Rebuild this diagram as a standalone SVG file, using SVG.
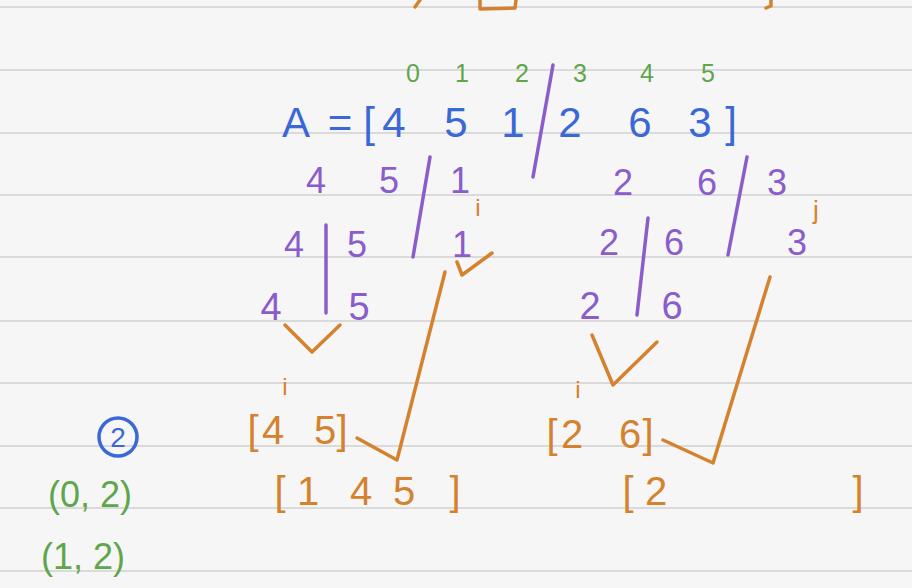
<svg xmlns="http://www.w3.org/2000/svg" width="912" height="588" viewBox="0 0 912 588">
<style>
.rule{stroke:#dadada;stroke-width:2}
.t{font-family:"Liberation Sans","Open Sans",sans-serif;text-anchor:middle}
.blue{fill:#3a68d6}
.green{fill:#5ea64c}
.purple{fill:#8b5ccc}
.orange{fill:#d4822e}
.ps{stroke:#8b5ccc;stroke-width:3.5;fill:none;stroke-linecap:round}
.os{stroke:#d4822e;stroke-width:3.5;fill:none;stroke-linecap:round;stroke-linejoin:round}
</style>
<rect width="912" height="588" fill="#f6f6f6"/>
<g id="ruling">
<line class="rule" x1="0" y1="7" x2="912" y2="7"/>
<line class="rule" x1="0" y1="70" x2="912" y2="70"/>
<line class="rule" x1="0" y1="133" x2="912" y2="133"/>
<line class="rule" x1="0" y1="195" x2="912" y2="195"/>
<line class="rule" x1="0" y1="257" x2="912" y2="257"/>
<line class="rule" x1="0" y1="321" x2="912" y2="321"/>
<line class="rule" x1="0" y1="383" x2="912" y2="383"/>
<line class="rule" x1="0" y1="446" x2="912" y2="446"/>
<line class="rule" x1="0" y1="508" x2="912" y2="508"/>
<line class="rule" x1="0" y1="571" x2="912" y2="571"/>
</g>
<g id="top-partial">
<path class="os" d="M420 0 L415 7"/>
<path class="os" d="M480 0 L480 9 L515 8 L516 0"/>
<path class="os" d="M771 0 L771 6 L766 8"/>
</g>
<g id="indices">
<text class="t green" font-size="25" x="413 462 522 580 647 708" y="82">012345</text>
</g>
<g id="array">
<text class="t blue" font-size="42" x="296 318 340 355 369 394 425 456 484 513 540 570 605 640 670 700 731" y="137">A = [4 5 1 2 6 3]</text>
</g>
<g id="splits">
<path class="ps" d="M553 65 L533 177"/>
<path class="ps" d="M430 157 L413 257"/>
<path class="ps" d="M326 225 L326 313"/>
<path class="ps" d="M747 157 L728 255"/>
<path class="ps" d="M648 218 L637 315"/>
<text class="t purple" font-size="36" x="316 389 460" y="193">451</text>
<text class="t purple" font-size="36" x="623 707 777" y="195">263</text>
<text class="t purple" font-size="36" x="294 357 462" y="257">451</text>
<text class="t purple" font-size="36" x="609 674 797" y="255">263</text>
<text class="t purple" font-size="38" x="271 359" y="320">45</text>
<text class="t purple" font-size="38" x="590 672" y="319">26</text>
</g>
<g id="merges">
<path class="os" d="M285 325 L312 352 L340 325"/>
<path class="os" d="M357 438 L397 460 L445 272"/>
<path class="os" d="M457 262 L462 275 L492 253"/>
<path class="os" d="M592 335 L613 385 L657 342"/>
<path class="os" d="M663 440 L713 463 L770 277"/>
<text class="t orange" font-size="24" x="478" y="216">i</text>
<text class="t orange" font-size="26" x="816" y="219">j</text>
<text class="t orange" font-size="24" x="285" y="395">i</text>
<text class="t orange" font-size="24" x="578" y="398">i</text>
<text class="t orange" font-size="40" x="253 273 300 325 342" y="444">[4 5]</text>
<text class="t orange" font-size="40" x="280 308 335 361 383 404 430 455" y="505">[1 4 5 ]</text>
<text class="t orange" font-size="40" x="552 572 600 630 648" y="448">[2 6]</text>
<text class="t orange" font-size="40" x="628 656" y="505">[2</text>
<text class="t orange" font-size="40" x="858" y="505">]</text>
</g>
<g id="notes">
<circle cx="118" cy="437" r="19" fill="none" stroke="#3a68d6" stroke-width="3.5"/>
<text class="t blue" font-size="28" x="118" y="447">2</text>
<text class="t green" font-size="36" x="90" y="507">(0, 2)</text>
<text class="t green" font-size="36" x="83" y="569">(1, 2)</text>
</g>
</svg>
